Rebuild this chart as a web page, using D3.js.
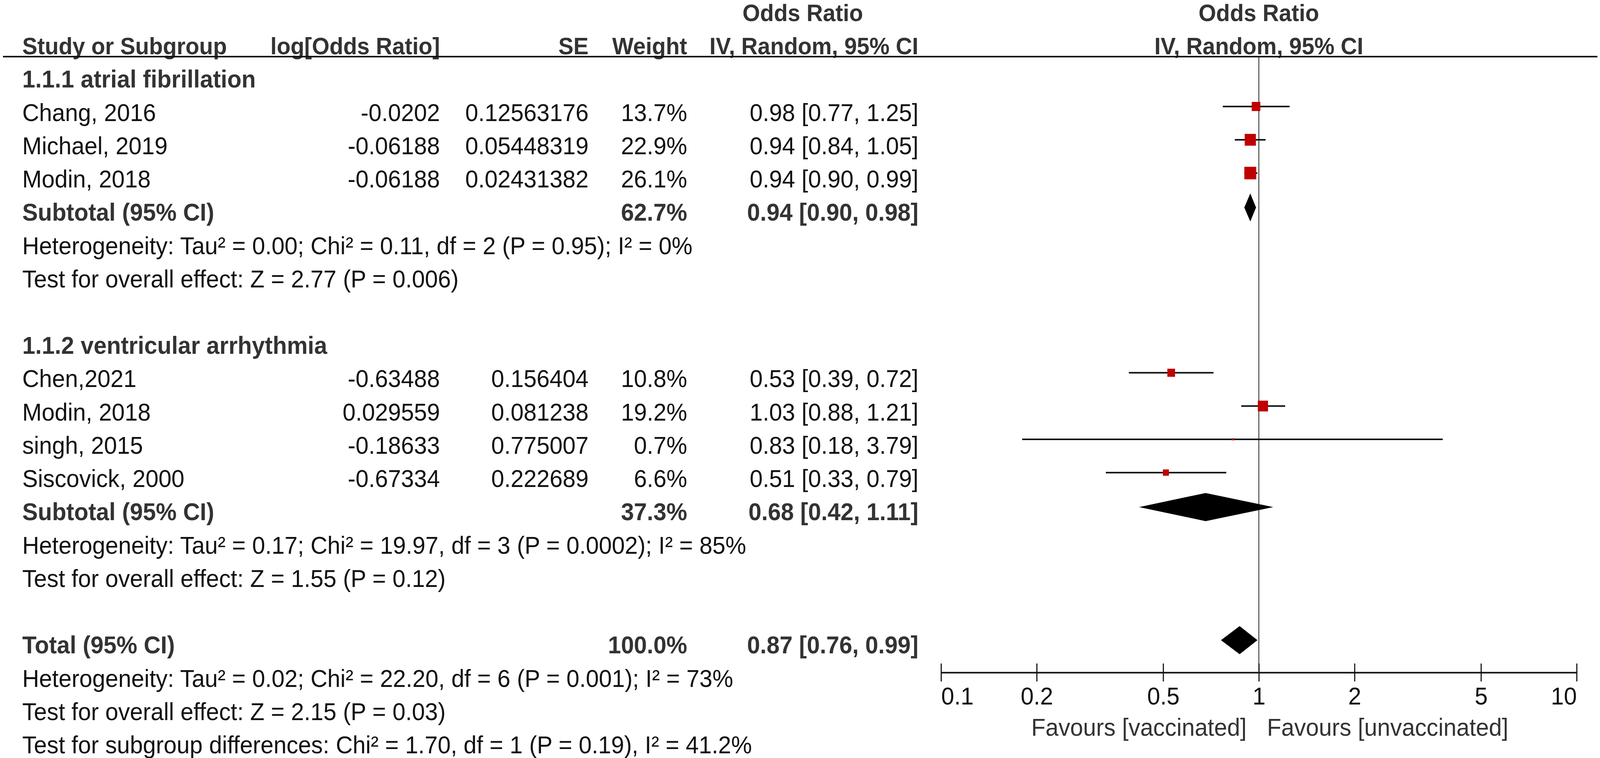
<!DOCTYPE html>
<html>
<head>
<meta charset="utf-8">
<script src="https://cdn.jsdelivr.net/npm/d3@7"></script>
<style>
  html, body { margin: 0; padding: 0; background: #fff; overflow: hidden; }
  svg { display: block; }
  text { font-family: "Liberation Sans", Arial, sans-serif; }
</style>
</head>
<body>
<svg id="chart" viewBox="0 0 4317 1941" preserveAspectRatio="none"></svg>
<script>
// ---------------- DATA ----------------
const groupTitles = ["1.1.1 atrial fibrillation", "1.1.2 ventricular arrhythmia"];
const groupRows = [2, 10];

const studyNames = ["Chang, 2016", "Michael, 2019", "Modin, 2018", "Chen,2021", "Modin, 2018", "singh, 2015", "Siscovick, 2000"];
const studyRows = [3, 4, 5, 11, 12, 13, 14];
const logOR = ["-0.0202", "-0.06188", "-0.06188", "-0.63488", "0.029559", "-0.18633", "-0.67334"];
const seVals = ["0.12563176", "0.05448319", "0.02431382", "0.156404", "0.081238", "0.775007", "0.222689"];
const weights = [13.7, 22.9, 26.1, 10.8, 19.2, 0.7, 6.6];
const orVals = [0.98, 0.94, 0.94, 0.53, 1.03, 0.83, 0.51];
const ciLow = [0.77, 0.84, 0.90, 0.39, 0.88, 0.18, 0.33];
const ciHigh = [1.25, 1.05, 0.99, 0.72, 1.21, 3.79, 0.79];

const summaryLabels = ["Subtotal (95% CI)", "Subtotal (95% CI)", "Total (95% CI)"];
const summaryRows = [6, 15, 19];
const summaryWeights = [62.7, 37.3, 100.0];
const summaryOR = [0.94, 0.68, 0.87];
const summaryLow = [0.90, 0.42, 0.76];
const summaryHigh = [0.98, 1.11, 0.99];

const statLines = [
  "Heterogeneity: Tau\u00b2 = 0.00; Chi\u00b2 = 0.11, df = 2 (P = 0.95); I\u00b2 = 0%",
  "Test for overall effect: Z = 2.77 (P = 0.006)",
  "Heterogeneity: Tau\u00b2 = 0.17; Chi\u00b2 = 19.97, df = 3 (P = 0.0002); I\u00b2 = 85%",
  "Test for overall effect: Z = 1.55 (P = 0.12)",
  "Heterogeneity: Tau\u00b2 = 0.02; Chi\u00b2 = 22.20, df = 6 (P = 0.001); I\u00b2 = 73%",
  "Test for overall effect: Z = 2.15 (P = 0.03)",
  "Test for subgroup differences: Chi\u00b2 = 1.70, df = 1 (P = 0.19), I\u00b2 = 41.2%"
];
const statRows = [7, 8, 16, 17, 20, 21, 22];

const tickValues = [0.1, 0.2, 0.5, 1, 2, 5, 10];
const tickLabels = ["0.1", "0.2", "0.5", "1", "2", "5", "10"];
const favourLeft = "Favours [vaccinated]";
const favourRight = "Favours [unvaccinated]";

// ---------------- LAYOUT ----------------
const W = 4317, H = 1941;
const svg = d3.select("#chart")
  .attr("width", window.innerWidth || W)
  .attr("height", window.innerHeight || H);

const FS = 63;
const rowY = d3.scaleLinear().domain([0, 22]).range([54, 1929]);   // text baselines
const markOffset = 37;                                              // mark centre above baseline
const x = d3.scaleLog().domain([0.1, 10]).range([2539, 4254]);
const axisY = 1722;
const lineTop = 145;

const col = { name: 60, logor: 1187, se: 1588, weight: 1854, or: 2478 };
const f2 = d3.format(".2f");
const f1 = d3.format(".1f");
const orText = (o, l, h) => `${f2(o)} [${f2(l)}, ${f2(h)}]`;

function txt(xp, yp, s, opts = {}) {
  return svg.append("text")
    .attr("x", xp).attr("y", yp)
    .attr("font-size", opts.size || FS)
    .attr("font-weight", opts.bold ? "bold" : "normal")
    .attr("fill", opts.fill || (opts.bold ? "#333" : "#111"))
    .attr("text-anchor", opts.anchor || "start")
    .text(s);
}

// ---- headers ----
txt(col.or - 312, rowY(0), "Odds Ratio", { bold: true, anchor: "middle", size: 61 });
txt(x(1), rowY(0), "Odds Ratio", { bold: true, anchor: "middle", size: 61 });
txt(col.name, rowY(1), "Study or Subgroup", { bold: true, size: 61 });
txt(col.logor, rowY(1), "log[Odds Ratio]", { bold: true, anchor: "end", size: 61 });
txt(col.se, rowY(1), "SE", { bold: true, anchor: "end", size: 61 });
txt(col.weight, rowY(1), "Weight", { bold: true, anchor: "end", size: 61 });
txt(col.or, rowY(1), "IV, Random, 95% CI", { bold: true, anchor: "end", size: 61 });
txt(x(1), rowY(1), "IV, Random, 95% CI", { bold: true, anchor: "middle", size: 61 });

svg.append("line")
  .attr("x1", 8).attr("x2", 4310)
  .attr("y1", lineTop).attr("y2", lineTop)
  .attr("stroke", "#111").attr("stroke-width", 4);

// ---- group titles ----
groupTitles.forEach((g, i) => txt(col.name, rowY(groupRows[i]), g, { bold: true }));

// ---- studies text ----
studyNames.forEach((n, i) => {
  const y = rowY(studyRows[i]);
  txt(col.name, y, n);
  txt(col.logor, y, logOR[i], { anchor: "end" });
  txt(col.se, y, seVals[i], { anchor: "end" });
  txt(col.weight, y, f1(weights[i]) + "%", { anchor: "end" });
  txt(col.or, y, orText(orVals[i], ciLow[i], ciHigh[i]), { anchor: "end" });
});

// ---- summary text ----
summaryLabels.forEach((s, i) => {
  const y = rowY(summaryRows[i]);
  txt(col.name, y, s, { bold: true });
  txt(col.weight, y, f1(summaryWeights[i]) + "%", { bold: true, anchor: "end" });
  txt(col.or, y, orText(summaryOR[i], summaryLow[i], summaryHigh[i]), { bold: true, anchor: "end" });
});

// ---- stats lines ----
statLines.forEach((s, i) => txt(col.name, rowY(statRows[i]), s));

// ---- plot: reference line at 1 ----
svg.append("line")
  .attr("x1", x(1)).attr("x2", x(1))
  .attr("y1", lineTop).attr("y2", axisY)
  .attr("stroke", "#111").attr("stroke-width", 2);

// ---- CI lines and squares ----
const plot = svg.append("g");
studyNames.forEach((n, i) => {
  const cy = rowY(studyRows[i]) - markOffset;
  plot.append("line")
    .attr("x1", x(ciLow[i])).attr("x2", x(ciHigh[i]))
    .attr("y1", cy).attr("y2", cy)
    .attr("stroke", "#111").attr("stroke-width", 4);
  const side = 6.3 * Math.sqrt(weights[i]);
  plot.append("rect")
    .attr("x", x(orVals[i]) - side / 2).attr("y", cy - side / 2)
    .attr("width", side).attr("height", side)
    .attr("fill", "#c00000");
});

// ---- diamonds ----
const dH = 36;
summaryOR.forEach((o, i) => {
  const cy = rowY(summaryRows[i]) - markOffset + 3;
  const pts = [[x(summaryLow[i]), cy], [x(o), cy - dH], [x(summaryHigh[i]), cy], [x(o), cy + dH]];
  plot.append("path")
    .attr("d", d3.line()(pts) + "Z")
    .attr("fill", "#000");
});

// ---- axis ----
const axis = d3.axisBottom(x)
  .tickValues(tickValues)
  .tickFormat((d, i) => tickLabels[i])
  .tickSizeOuter(0)
  .tickSizeInner(22);
const ag = svg.append("g").attr("transform", `translate(0,${axisY})`).call(axis);
ag.select(".domain").attr("stroke", "#111").attr("stroke-width", 4);
ag.selectAll(".tick line").attr("y1", -23).attr("y2", 23).attr("stroke", "#111").attr("stroke-width", 3);
ag.selectAll(".tick text")
  .attr("y", 82).attr("dy", 0)
  .attr("font-size", FS)
  .attr("font-family", "Liberation Sans, Arial, sans-serif")
  .attr("fill", "#111")
  .attr("text-anchor", (d, i) => i === 0 ? "start" : (i === tickValues.length - 1 ? "end" : "middle"));

// ---- favours labels ----
txt(x(1) - 33, 1884, favourLeft, { anchor: "end", fill: "#333" });
txt(x(1) + 22, 1884, favourRight, { anchor: "start", fill: "#333" });
</script>
</body>
</html>
